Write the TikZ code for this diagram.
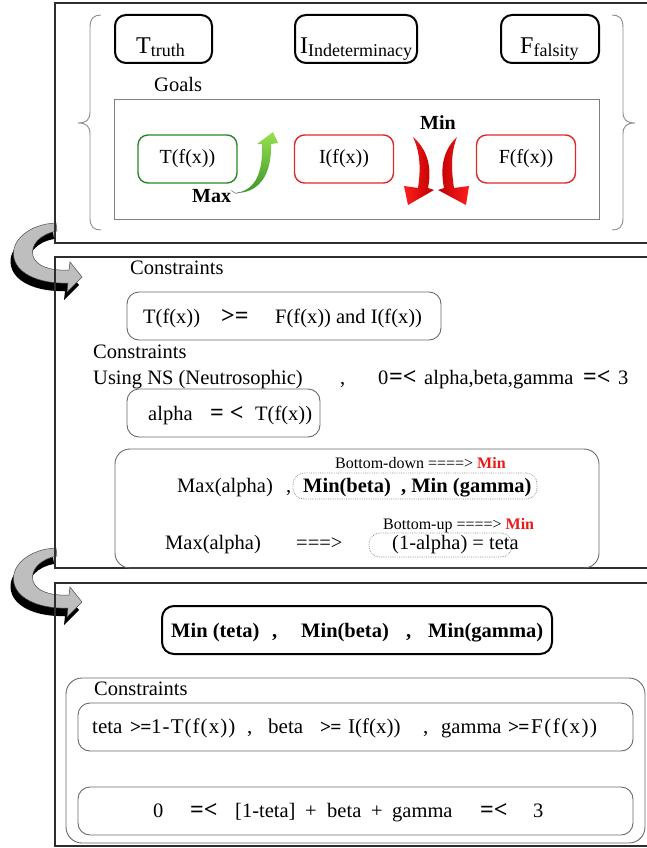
\documentclass[tikz,border=0pt]{standalone}
\usepackage{fontspec}
\setmainfont{Liberation Serif}
\newcommand\fsz[1]{\fontsize{#1}{#1}\selectfont}
\definecolor{panelline}{RGB}{45,45,45}
\definecolor{boxgray}{RGB}{105,105,105}
\definecolor{bracegray}{RGB}{140,140,140}
\definecolor{goalgreen}{RGB}{40,135,40}
\definecolor{goalred}{RGB}{225,40,40}
\definecolor{minred}{RGB}{235,25,25}
\definecolor{gtip}{RGB}{150,225,80}
\definecolor{gtail}{RGB}{60,150,40}
\definecolor{rdark}{RGB}{190,0,0}
\definecolor{rlight}{RGB}{255,30,30}
\definecolor{turngray}{RGB}{190,190,190}
\begin{document}
\begin{tikzpicture}[x=1pt,y=-1pt,
  panel/.style={draw=panelline,line width=1.3pt},
  hbox/.style={draw=black,line width=2pt,rounded corners=11pt,inner sep=0pt},
  gbox/.style={draw=boxgray,line width=0.9pt,rounded corners=12pt,inner sep=0pt},
  goalbox/.style={line width=1.4pt,rounded corners=10pt,inner sep=0pt,
                  minimum width=99pt,minimum height=48pt,font=\fsz{20}},
  dotbox/.style={draw=gray,line width=0.7pt,dash pattern=on 0.7pt off 1.1pt,
                 rounded corners=11pt,inner sep=0pt},
  txt/.style={inner sep=0pt,anchor=base west,font=\fsz{20.5}},
  wtxt/.style={txt,font=\fsz{21}},
  bold/.style={txt,font=\bfseries\fsz{20.5}},
  rel/.style={txt,font=\bfseries\fsz{24}},
  srel/.style={txt,font=\bfseries\fsz{19.5}},
  small/.style={txt,font=\fsz{16}},
  turn/.style={fill=turngray,draw=black!70,line width=0.5pt},
  turnshadow/.style={fill=black}]
\useasboundingbox (0,0) rectangle (647,848);
\clip (0,0) rectangle (647,848);

% ---------- curved transition arrows (behind the panels) ----------
\foreach \dy/\nm in {0/one,325/two}{
  \begin{scope}[shift={(0,\dy)}]
    \fill[turnshadow,shift={(-3,8)}]
      (56,223) .. controls (30,224) and (10,240) .. (14,258)
      .. controls (18,276) and (44,284) .. (68,283) -- (67,292) -- (82,277)
      -- (70,262) -- (69,270) .. controls (50,271) and (36,266) .. (33,256)
      .. controls (30,245) and (40,234) .. (57,231) -- cycle;
    \draw[turn]
      (56,223) .. controls (30,224) and (10,240) .. (14,258)
      .. controls (18,276) and (44,284) .. (68,283) -- (67,292) -- (82,277)
      -- (70,262) -- (69,270) .. controls (50,271) and (36,266) .. (33,256)
      .. controls (30,245) and (40,234) .. (57,231) -- cycle;
    \coordinate (turn-\nm) at (82,277);
  \end{scope}
}

% ---------- panel frames ----------
\draw[panel] (55,3) rectangle (720,243);
\draw[panel] (55,257) rectangle (720,568);
\draw[panel] (55,583) rectangle (720,846);

% ---------- panel 1: T / I / F and goals ----------
\draw[bracegray,line width=0.9pt]
  (101,15) .. controls (94,15) and (90,18) .. (90,28) -- (90,112)
  .. controls (90,120) and (86,123) .. (78,123)
  .. controls (86,123) and (90,126) .. (90,134) -- (90,218)
  .. controls (90,227) and (94,230) .. (101,230);
\draw[bracegray,line width=0.9pt]
  (612,15) .. controls (619,15) and (623,18) .. (623,28) -- (623,112)
  .. controls (623,120) and (627,123) .. (635,123)
  .. controls (627,123) and (623,126) .. (623,134) -- (623,218)
  .. controls (623,227) and (619,230) .. (612,230);

\node[hbox,minimum width=97pt,minimum height=48pt] (tbox) at (163.5,39) {};
\node[hbox,minimum width=122pt,minimum height=48pt] (ibox) at (356,39) {};
\node[hbox,minimum width=98pt,minimum height=48pt] (fbox) at (550,39) {};
\node[txt,font=\fsz{24}] (tlab) at (136,54) {T\raisebox{-2.5pt}{\fsz{18}truth}};
\node[txt,font=\fsz{24}] (ilab) at (300,54) {I\raisebox{-2.5pt}{\fsz{18}Indeterminacy}};
\node[txt,font=\fsz{24}] (flab) at (520,54) {F\raisebox{-2.5pt}{\fsz{18}falsity}};

\node[txt] (goals) at (154,92) {Goals};
\node[draw=gray,line width=0.9pt,inner sep=0pt,minimum width=485pt,minimum height=120pt] (goalframe) at (356.5,159) {};

\node[goalbox,draw=goalgreen] (tfx) at (187.5,159) {T(f(x))};
\node[goalbox,draw=goalred] (ifx) at (344,159) {I(f(x))};
\node[goalbox,draw=goalred] (ffx) at (526,159) {F(f(x))};

\node[bold,font=\bfseries\fsz{20}] (maxlab) at (192,202) {Max};
\node[bold,font=\bfseries\fsz{20}] (minlab) at (420,129) {Min};

% green "Max" arrow
\shade[top color=gtip,bottom color=gtail]
  (236,193) .. controls (256,190) and (263,172) .. (262,144) -- (257,144)
  -- (273,132) -- (278,143) -- (271,144)
  .. controls (272,176) and (258,193) .. (236,193) -- cycle;
\draw[black!60,line width=0.5pt] (maxlab.east) ++(0,-5) .. controls (236,194) .. (240,192);

% red "Min" arrows
\shade[left color=rlight,right color=rdark]
  (413,137) .. controls (428,150) and (432,168) .. (428,188) -- (434,190)
  -- (408,205) -- (404,186) -- (418,188)
  .. controls (421,168) and (420,152) .. (413,137) -- cycle;
\shade[left color=rdark,right color=rlight]
  (457,137) .. controls (443,150) and (440,168) .. (444,188) -- (438,190)
  -- (466,205) -- (469,186) -- (454,188)
  .. controls (451,168) and (451,152) .. (457,137) -- cycle;

% ---------- panel 2: constraints with NS ----------
\node[txt] (con1) at (130,274) {Constraints};
\node[gbox,minimum width=314pt,minimum height=48pt] (c1) at (284,316) {};
\node[txt] (c1a) at (143,323) {T(f(x))};
\node[rel] (c1b) at (221,323) {>=};
\node[txt] (c1c) at (275,323) {F(f(x)) and I(f(x))};

\node[txt] (con2) at (93,358) {Constraints};
\node[txt] (ns) at (93,384) {Using NS (Neutrosophic)};
\node[txt] (nscomma) at (340,384) {,};
\node[txt] (nszero) at (378,384) {0};
\node[rel] (nsle1) at (389,384) {=<};
\node[txt] (nsvars) at (424,384) {alpha,beta,gamma};
\node[rel] (nsle2) at (583,384) {=<};
\node[txt] (nsthree) at (618,384) {3};

\node[gbox,minimum width=193pt,minimum height=48pt] (c2) at (223.5,413) {};
\node[txt] (c2a) at (148,420) {alpha};
\node[rel] (c2b) at (210,420) {= <};
\node[txt] (c2c) at (255,420) {T(f(x))};

\node[gbox,rounded corners=15pt,minimum width=484pt,minimum height=119pt] (c3) at (357,508.5) {};
\node[small] (bdown) at (335,468) {Bottom-down ====> \textcolor{minred}{\bfseries Min}};
\node[txt] (maxa1) at (177,492) {Max(alpha)};
\node[txt] (maxcomma) at (286,492) {,};
\node[dotbox,minimum width=244pt,minimum height=26pt] (d1) at (415,486) {};
\node[bold] (minbg) at (303,492) {Min(beta)\ \ , Min (gamma)};
\node[small] (bup) at (383,529) {Bottom-up ====> \textcolor{minred}{\bfseries Min}};
\node[txt] (maxa2) at (165,549) {Max(alpha)};
\node[txt] (imp) at (296,549) {===>};
\node[dotbox,minimum width=143pt,minimum height=24pt] (d2) at (440.5,545) {};
\node[txt] (teta) at (392,549) {(1-alpha) = teta};

% ---------- panel 3: final model ----------
\node[hbox,rounded corners=12pt,minimum width=390pt,minimum height=48pt] (obj) at (357,630) {};
\node[bold] (o1) at (171,637) {Min (teta)};
\node[bold] (o2) at (272,637) {,};
\node[bold] (o3) at (301,637) {Min(beta)};
\node[bold] (o4) at (406,637) {,};
\node[bold] (o5) at (428,637) {Min(gamma)};

\node[gbox,rounded corners=16pt,minimum width=579pt,minimum height=165pt] (cons) at (355.5,760.5) {};
\node[txt] (con3) at (94,695) {Constraints};

\node[gbox,minimum width=555pt,minimum height=48pt] (ca) at (355.5,727) {};
\node[wtxt] (a1) at (92,733) {teta};
\node[srel] (a2) at (130,733) {>\kern-1pt=};
\node[wtxt] (a3) at (151,733) {\addfontfeatures{LetterSpace=5}1-T(f(x))};
\node[wtxt] (a4) at (247,733) {,};
\node[wtxt] (a5) at (268,733) {beta};
\node[srel] (a6) at (320,733) {>\kern-1pt=};
\node[wtxt] (a7) at (348,733) {I(f(x))};
\node[wtxt] (a8) at (423,733) {,};
\node[txt] (a9) at (441,733) {gamma};
\node[srel] (a10) at (508,733) {>\kern-1pt=};
\node[wtxt] (a11) at (531,733) {\addfontfeatures{LetterSpace=7}F(f(x))};

\node[gbox,minimum width=555pt,minimum height=48pt] (cb) at (355.5,811) {};
\node[txt] (b1) at (153,817) {0};
\node[rel] (b2) at (190,817) {=<};
\node[txt] (b3) at (235,817) {[1-teta]};
\node[txt] (b4) at (305,817) {+};
\node[txt] (b5) at (327,817) {beta};
\node[txt] (b6) at (371,817) {+};
\node[txt] (b7) at (392,817) {gamma};
\node[rel] (b8) at (480,817) {=<};
\node[txt] (b9) at (533,817) {3};
\end{tikzpicture}
\end{document}
